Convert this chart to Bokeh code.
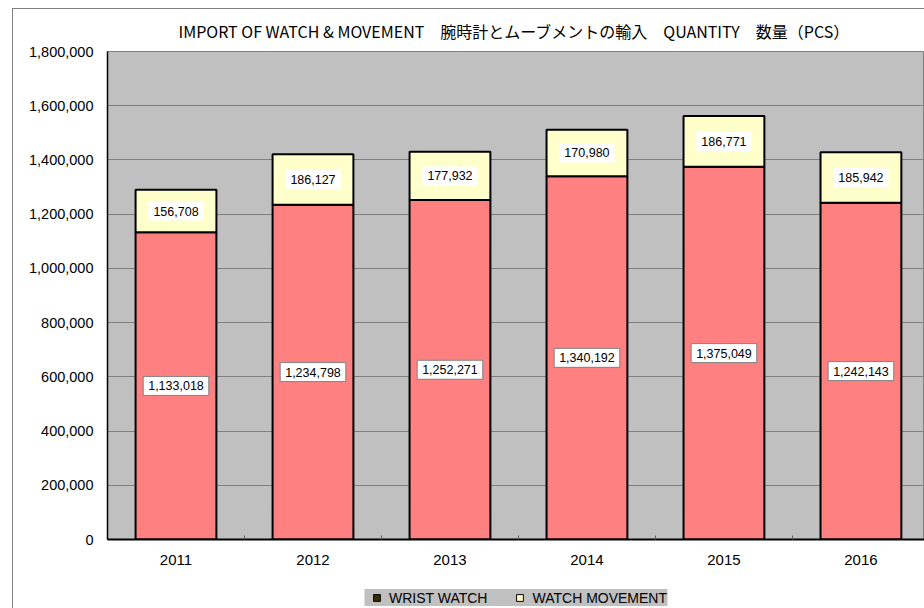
from bokeh.plotting import figure
from bokeh.layouts import column
from bokeh.models import (ColumnDataSource, Range1d, FixedTicker, NumeralTickFormatter,
                          Legend, LegendItem)
from bokeh.core.properties import value
from bokeh.embed import file_html
from bokeh.resources import INLINE

# ---- data ----
years = ["2011", "2012", "2013", "2014", "2015", "2016"]
wrist_watch = [1133018, 1234798, 1252271, 1340192, 1375049, 1242143]
watch_movement = [156708, 186127, 177932, 170980, 186771, 185942]
y_ticks = [0, 200000, 400000, 600000, 800000, 1000000, 1200000, 1400000, 1600000, 1800000]
series_names = ["WRIST WATCH", "WATCH MOVEMENT"]

CJK = "Noto Sans CJK JP"
LAT = "Liberation Sans"
RED = "#FF8080"
YELLOW = "#FFFFCC"
DARK = "#333300"

x = list(range(len(years)))
source = ColumnDataSource(dict(
    x=x,
    wrist=wrist_watch,
    movement=watch_movement,
    y_w=[w / 2 for w in wrist_watch],
    y_m=[w + m / 2 for w, m in zip(wrist_watch, watch_movement)],
    lab_w=[f"{w:,}" for w in wrist_watch],
    lab_m=[f"{m:,}" for m in watch_movement],
))

p = figure(width=924, height=574, output_backend="svg", toolbar_location=None,
           x_range=Range1d(-0.5, 5.464), y_range=Range1d(0, 1800000),
           background_fill_color="#C0C0C0", border_fill_color=None,
           min_border_left=95, min_border_right=0, min_border_top=51, min_border_bottom=35)

p.title.text = "IMPORT OF WATCH & MOVEMENT\u3000腕時計とムーブメントの輸入\u3000QUANTITY\u3000数量（PCS）"
p.title.text_font = CJK
p.title.text_font_size = "16px"
p.title.text_font_style = "normal"
p.title.align = "left"
p.title.offset = 71
p.title.standoff = 18
p.title.text_color = "black"

p.outline_line_color = "#808080"

p.vbar_stack(["wrist", "movement"], x="x", width=0.59, source=source,
             fill_color=[RED, YELLOW], line_color="black", line_width=2)

p.text(x="x", y="y_w", text="lab_w", source=source, text_align="center",
       text_baseline="middle", text_font=value(LAT), text_font_size="12.5px",
       text_color="black", background_fill_color="white",
       border_line_color="#808080", border_line_width=1, padding=5)
p.text(x="x", y="y_m", text="lab_m", source=source, text_align="center",
       text_baseline="middle", text_font=value(LAT), text_font_size="12.5px",
       text_color="black", background_fill_color="white",
       border_line_color=None, padding=5)

# axes
p.xaxis.ticker = FixedTicker(ticks=x, minor_ticks=[i - 0.5 for i in range(len(years) + 1)])
p.xaxis.major_label_overrides = {i: y for i, y in enumerate(years)}
p.xaxis.major_tick_line_color = None
p.xaxis.major_tick_out = 0
p.xaxis.major_tick_in = 0
p.xaxis.minor_tick_in = 4
p.xaxis.minor_tick_out = 0
p.xaxis.minor_tick_line_color = "#606060"
p.xaxis.axis_line_color = "black"
p.xaxis.axis_line_width = 2
p.xaxis.major_label_standoff = 15
p.xaxis.major_label_text_font = LAT
p.xaxis.major_label_text_font_size = "15px"
p.xaxis.major_label_text_color = "black"
p.xgrid.grid_line_color = None

p.yaxis.ticker = FixedTicker(ticks=y_ticks)
p.yaxis.formatter = NumeralTickFormatter(format="0,0")
p.yaxis.major_tick_in = 0
p.yaxis.major_tick_out = 0
p.yaxis.minor_tick_line_color = None
p.yaxis.axis_line_color = "black"
p.yaxis.axis_line_width = 1.5
p.yaxis.major_label_standoff = 14
p.yaxis.major_label_text_font = LAT
p.yaxis.major_label_text_font_size = "14.5px"
p.yaxis.major_label_text_color = "black"
p.ygrid.grid_line_color = "#808080"
p.ygrid.grid_line_width = 1

# ---- legend strip below the chart ----
p2 = figure(width=924, height=34, output_backend="svg", toolbar_location=None,
            x_range=Range1d(0, 1), y_range=Range1d(0, 1),
            x_axis_type=None, y_axis_type=None,
            background_fill_color=None, border_fill_color=None,
            min_border_left=107, min_border_right=0, min_border_top=0, min_border_bottom=0)
p2.outline_line_color = None
p2.grid.grid_line_color = None

r1 = p2.scatter(x="x", y="wrist", source=source, marker="square",
                fill_color=DARK, line_color="black", visible=False)
r2 = p2.scatter(x="x", y="movement", source=source, marker="square",
                fill_color=YELLOW, line_color="black", visible=False)
legend = Legend(items=[LegendItem(label=series_names[0], renderers=[r1]),
                       LegendItem(label=series_names[1], renderers=[r2])],
                orientation="horizontal", location="bottom",
                background_fill_color="#C0C0C0", background_fill_alpha=1.0,
                border_line_color=None, inactive_fill_alpha=0.0,
                label_text_font=LAT, label_text_font_size="14px", label_text_color="black",
                glyph_width=24, glyph_height=17, label_height=17, label_standoff=1,
                spacing=20, padding=3, margin=2)
p2.add_layout(legend, "center")

layout = column(p, p2, spacing=0)
# outer chart border: left and top edges (the rest lies outside the window)
layout.styles = {
    "background": ("linear-gradient(#808080, #808080) 12px 8px / 1px 100% no-repeat, "
                   "linear-gradient(#808080, #808080) 12px 8px / 100% 1px no-repeat, #ffffff"),
}
open("out.html", "w").write(file_html(layout, INLINE))
